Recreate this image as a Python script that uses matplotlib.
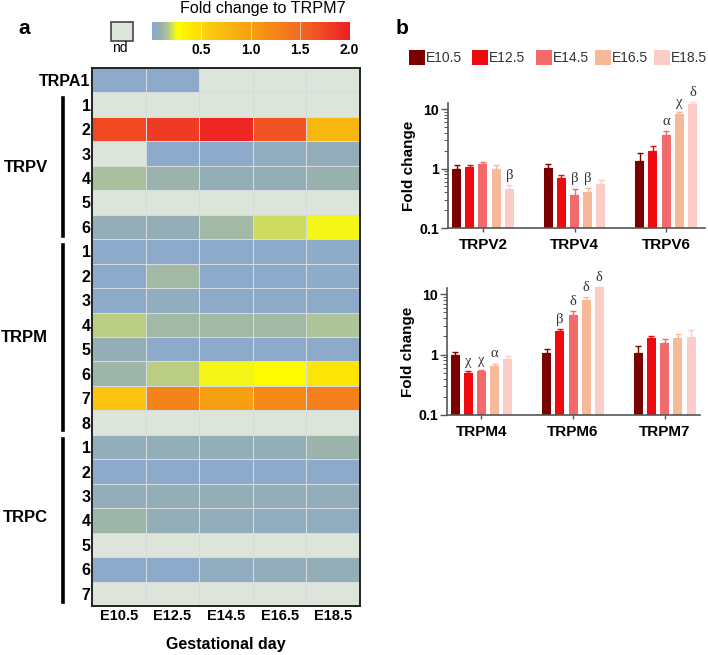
import numpy as np
import matplotlib
matplotlib.use("Agg")
import matplotlib.pyplot as plt
from matplotlib.colors import LinearSegmentedColormap
from matplotlib.patches import Rectangle

plt.rcParams["font.family"] = ["Liberation Sans", "DejaVu Sans"]

W, H = 708, 655
nd = np.nan

days = ["E10.5", "E12.5", "E14.5", "E16.5", "E18.5"]
row_labels = ["TRPA1", "1", "2", "3", "4", "5", "6",
              "1", "2", "3", "4", "5", "6", "7", "8",
              "1", "2", "3", "4", "5", "6", "7"]
heat = np.array([
    [0.02, 0.02, nd, nd, nd],
    [nd, nd, nd, nd, nd],
    [1.72, 1.82, 1.95, 1.65, 0.75],
    [nd, 0.02, 0.02, 0.04, 0.05],
    [0.14, 0.09, 0.06, 0.06, 0.08],
    [nd, nd, nd, nd, nd],
    [0.06, 0.06, 0.11, 0.19, 0.24],
    [0.02, 0.02, 0.02, 0.02, 0.03],
    [0.02, 0.11, 0.02, 0.02, 0.03],
    [0.02, 0.04, 0.02, 0.02, 0.02],
    [0.17, 0.11, 0.11, 0.11, 0.15],
    [0.06, 0.02, 0.02, 0.02, 0.02],
    [0.10, 0.17, 0.24, 0.27, 0.42],
    [0.62, 1.25, 1.0, 1.2, 1.3],
    [nd, nd, nd, nd, nd],
    [0.05, 0.06, 0.06, 0.06, 0.09],
    [0.02, 0.02, 0.02, 0.02, 0.02],
    [0.05, 0.06, 0.06, 0.05, 0.05],
    [0.10, 0.06, 0.05, 0.04, 0.04],
    [nd, nd, nd, nd, nd],
    [0.02, 0.02, 0.04, 0.05, 0.06],
    [nd, nd, nd, nd, nd],
])

bar_colors = ["#7b0000", "#ee0a0e", "#f26a6a", "#f6b99a", "#fbcdc6"]

genes_top = ["TRPV2", "TRPV4", "TRPV6"]
vals_top = [[1.0, 1.08, 1.18, 1.0, 0.45],
            [1.03, 0.7, 0.36, 0.4, 0.55],
            [1.35, 2.0, 3.6, 8.3, 12.0]]
upper_top = [[1.15, 1.15, 1.3, 1.15, 0.52],
             [1.2, 0.78, 0.46, 0.47, 0.63],
             [1.85, 2.35, 4.3, 8.8, 13.0]]
marks_top = [["", "", "", "", "β"],
             ["", "", "β", "β", ""],
             ["", "", "α", "χ", "δ"]]

genes_bot = ["TRPM4", "TRPM6", "TRPM7"]
vals_bot = [[1.0, 0.49, 0.53, 0.64, 0.86],
            [1.05, 2.45, 4.5, 8.1, 13.0],
            [1.08, 1.85, 1.58, 1.85, 1.95]]
upper_bot = [[1.12, 0.54, 0.56, 0.71, 0.95],
             [1.25, 2.65, 5.2, 9.0, 13.2],
             [1.38, 2.05, 1.8, 2.2, 2.55]]
marks_bot = [["", "χ", "χ", "α", ""],
             ["", "β", "δ", "δ", "δ"],
             ["", "", "", "", ""]]

cmap = LinearSegmentedColormap.from_list("fold", [
    (0.0, "#8aa9d2"), (0.0375, "#98b0ae"), (0.075, "#aec49a"), (0.125, "#ffff00"),
    (0.3, "#fbc70f"), (0.5, "#f7a012"), (0.75, "#f26a21"), (1.0, "#ee2024")])
cmap.set_bad("#dde5da")


def px_axes(x0, y0, x1, y1):
    # pixel box, y measured from the top
    return fig.add_axes([x0 / W, 1 - y1 / H, (x1 - x0) / W, (y1 - y0) / H])


def px_text(x, y, s, **kw):
    fig.text(x / W, 1 - y / H, s, **kw)


fig = plt.figure(figsize=(W / 100, H / 100), dpi=100)

# panel a
ax = px_axes(92, 68, 360, 606)
ax.pcolormesh(np.ma.masked_invalid(heat), cmap=cmap, vmin=0, vmax=2,
              edgecolors="#d5dcdf", linewidth=0.5)
ax.set_ylim(len(row_labels), 0)
ax.set_xticks(np.arange(5) + 0.5, days, fontsize=10.5, fontweight="bold")
ax.set_yticks(np.arange(len(row_labels)) + 0.5, row_labels, fontsize=11.5, fontweight="bold")
ax.tick_params(length=0, pad=2)
ax.tick_params(axis="y", pad=1)
for s in ax.spines.values():
    s.set_linewidth(1.4)
    s.set_color("#222222")
ax.set_xlabel("Gestational day", fontsize=11.5, fontweight="bold", labelpad=10)

for y0, y1, name, yc in [(98, 236, "TRPV", 167), (245, 430, "TRPM", 338), (439, 602, "TRPC", 517)]:
    fig.add_artist(plt.Line2D([63 / W, 63 / W], [1 - y0 / H, 1 - y1 / H], color="black", lw=2.6))
    px_text(48, yc, name, fontsize=12, fontweight="bold", ha="right", va="center")

px_text(18, 29, "a", fontsize=15, fontweight="bold", va="center")
px_text(396, 28, "b", fontsize=15, fontweight="bold", va="center")

# nd box and colour key
fig.add_artist(Rectangle((110.5 / W, 1 - 41 / H), 22.5 / W, 19 / H, transform=fig.transFigure,
                         facecolor="#dde5da", edgecolor="#444444", lw=1.2))
px_text(120, 48, "nd", fontsize=10, ha="center", va="center")

cax = px_axes(152, 22, 349.5, 40)
cax.imshow(np.linspace(0, 2, 400).reshape(1, -1), cmap=cmap, vmin=0, vmax=2,
           aspect="auto", extent=[0, 2, 0, 1])
cax.set_yticks([])
cax.set_xticks([0.5, 1.0, 1.5, 2.0], ["0.5", "1.0", "1.5", "2.0"], fontsize=10, fontweight="bold")
cax.tick_params(axis="x", length=0, pad=2)
for v in [0.5, 1.0, 1.5]:
    cax.axvline(v, color="white", lw=0.6, alpha=0.7)
for s in cax.spines.values():
    s.set_visible(False)
px_text(263, 8, "Fold change to TRPM7", fontsize=11.6, ha="center", va="center")

# legend of panel b
legend_x = [409, 472, 536, 595, 654]
for xp, day, col in zip(legend_x, days, bar_colors):
    fig.add_artist(Rectangle((xp / W, 1 - 65 / H), 16 / W, 15 / H, transform=fig.transFigure,
                             facecolor=col, edgecolor="none"))
    px_text(xp + 17, 57.5, day, fontsize=10, va="center", color="#333333")


def bar_panel(box, genes, vals, upper, marks, xlim):
    a = px_axes(*box)
    a.set_yscale("log")
    offs = (np.arange(5) - 2) * 0.144
    for g in range(3):
        for i in range(5):
            x = g + offs[i]
            v = vals[g][i]
            a.bar(x, v - 0.1, width=0.098, bottom=0.1, color=bar_colors[i], clip_on=False)
            a.errorbar(x, v, yerr=[[0], [upper[g][i] - v]], color=bar_colors[i],
                       capsize=2.2, lw=1, capthick=1, clip_on=False)
            if marks[g][i]:
                a.annotate(marks[g][i], (x, upper[g][i]), xytext=(0, 7), textcoords="offset points",
                           ha="center", va="center", fontsize=10.5, family="Liberation Serif",
                           color="#333333", annotation_clip=False)
    a.set_xlim(*xlim)
    a.set_ylim(0.1, 10 ** (1 + 6 / 59))
    a.set_xticks(range(3), genes, fontsize=11, fontweight="bold")
    a.set_yticks([0.1, 1, 10], ["0.1", "1", "10"], fontsize=10.2, fontweight="bold")
    a.tick_params(axis="x", length=3, width=1, color="#555555", pad=4)
    a.tick_params(axis="y", which="major", length=5, width=1, color="#555555", pad=1.5)
    a.tick_params(axis="y", which="minor", length=3, width=0.7, color="#555555")
    a.yaxis.set_minor_formatter(plt.NullFormatter())
    a.spines[["top", "right"]].set_visible(False)
    a.spines[["left", "bottom"]].set_color("#555555")
    a.spines[["left", "bottom"]].set_linewidth(1.2)
    a.set_ylabel("Fold change", fontsize=11, fontweight="bold", labelpad=2)
    return a


bar_panel((448, 103, 705, 228), genes_top, vals_top, upper_top, marks_top, (-0.382, 2.424))
bar_panel((447, 288, 700, 415), genes_bot, vals_bot, upper_bot, marks_bot, (-0.376, 2.386))

plt.savefig("out.png", dpi=100)
